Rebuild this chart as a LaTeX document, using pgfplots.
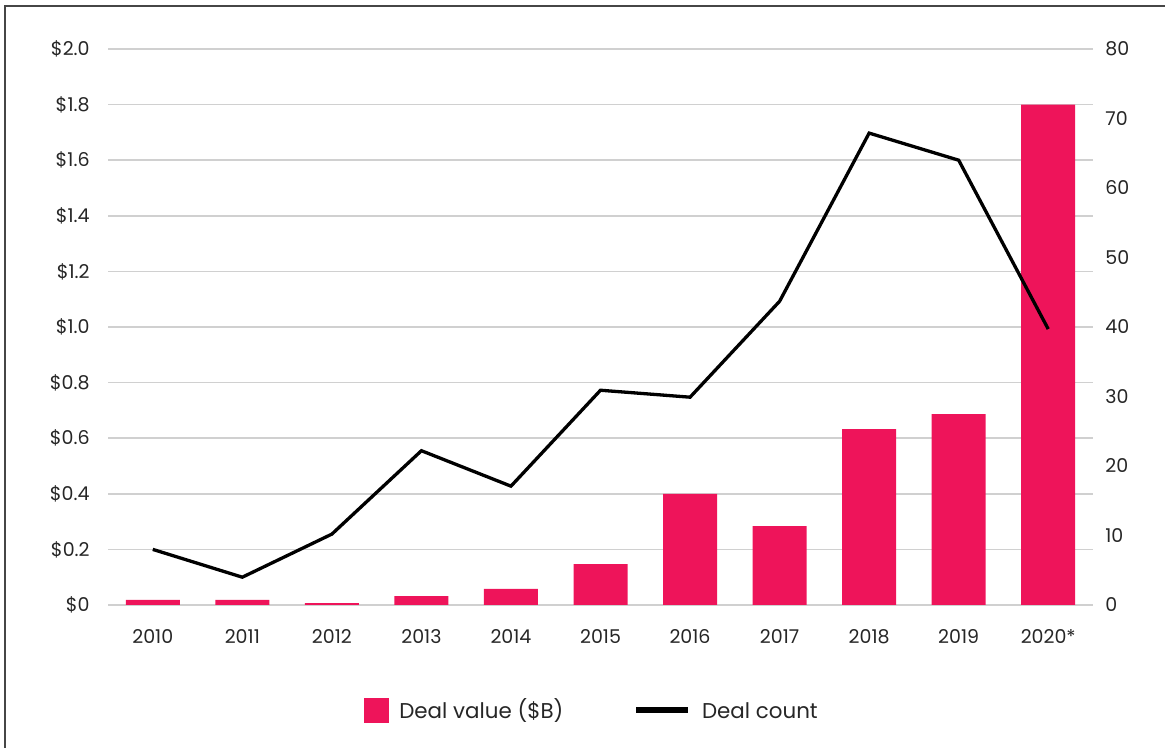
\documentclass[border=0pt]{standalone}
\usepackage{pgfplots}
\pgfplotsset{compat=1.18}
\usepackage{fontspec}
\setmainfont{Poppins}
\definecolor{pinkbar}{RGB}{238,20,90}
\definecolor{gridgray}{RGB}{208,208,208}
\definecolor{txt}{RGB}{38,38,38}
\definecolor{frame}{RGB}{70,70,70}
\begin{document}
\begin{tikzpicture}
\useasboundingbox (0,0) rectangle (582.5pt,374pt);
\draw[frame, line width=1pt] (2.5pt,-2pt) -- (2.5pt,371pt) -- (585pt,371pt);
\begin{axis}[
  at={(54pt,71.5pt)}, anchor=south west,
  scale only axis, width=492.5pt, height=278pt,
  xmin=-0.5, xmax=10.5, ymin=0, ymax=2,
  axis line style={draw=none},
  major tick length=0pt,
  tick style={draw=none},
  ymajorgrids, grid style={gridgray, line width=0.75pt},
  ytick={0,0.2,0.4,0.6,0.8,1.0,1.2,1.4,1.6,1.8,2.0},
  yticklabels={\$0,\$0.2,\$0.4,\$0.6,\$0.8,\$1.0,\$1.2,\$1.4,\$1.6,\$1.8,\$2.0},
  xtick={0,1,2,3,4,5,6,7,8,9,10},
  xticklabels={2010,2011,2012,2013,2014,2015,2016,2017,2018,2019,2020*},
  ticklabel style={font=\fontsize{9.5}{11}\selectfont, text=txt, inner sep=0pt},
  yticklabel style={anchor=east, xshift=-9pt},
  xticklabel style={anchor=north, yshift=-12pt},
  /pgf/number format/assume math mode=true,
]
\addplot[ybar, bar width=27pt, fill=pinkbar, draw=none] coordinates {
(0,0.018) (1,0.018) (2,0.007) (3,0.032) (4,0.058) (5,0.147) (6,0.400) (7,0.284) (8,0.633) (9,0.687) (10,1.80)};
\end{axis}
\begin{axis}[
  at={(54pt,71.5pt)}, anchor=south west,
  scale only axis, width=492.5pt, height=278pt,
  xmin=-0.5, xmax=10.5, ymin=0, ymax=80,
  axis line style={draw=none},
  major tick length=0pt,
  tick style={draw=none},
  axis y line*=right,
  hide x axis,
  ytick={0,10,20,30,40,50,60,70,80},
  ticklabel style={font=\fontsize{9.5}{11}\selectfont, text=txt, inner sep=0pt},
  yticklabel style={anchor=west, xshift=6pt},
  /pgf/number format/assume math mode=true,
  legend style={at={(0.492,-0.189)}, anchor=center, draw=none, fill=none,
    legend columns=2, font=\fontsize{10.7}{12}\selectfont, text=txt,
    /tikz/every odd column/.append style={column sep=3.5pt},
    /tikz/every even column/.append style={column sep=33pt}},
  legend cell align=left,
]
\addlegendimage{legend image code/.code={\fill[pinkbar] (0pt,-6pt) rectangle (12pt,6pt);}}
\addlegendentry{Deal value (\$B)}
\addplot[black, line width=1.65pt, legend image code/.code={\path[draw=none, fill=none] (0pt,-6pt) rectangle (26pt,6pt); \draw[black, line width=2.8pt] (0pt,0pt) -- (26pt,0pt);}] coordinates {
(0,8) (1,4) (2,10.2) (3,22.2) (4,17.1) (5,30.9) (6,29.9) (7,43.7) (8,67.9) (9,64) (10,39.7)};
\addlegendentry{Deal count\vphantom{()}}
\end{axis}
\end{tikzpicture}
\end{document}
